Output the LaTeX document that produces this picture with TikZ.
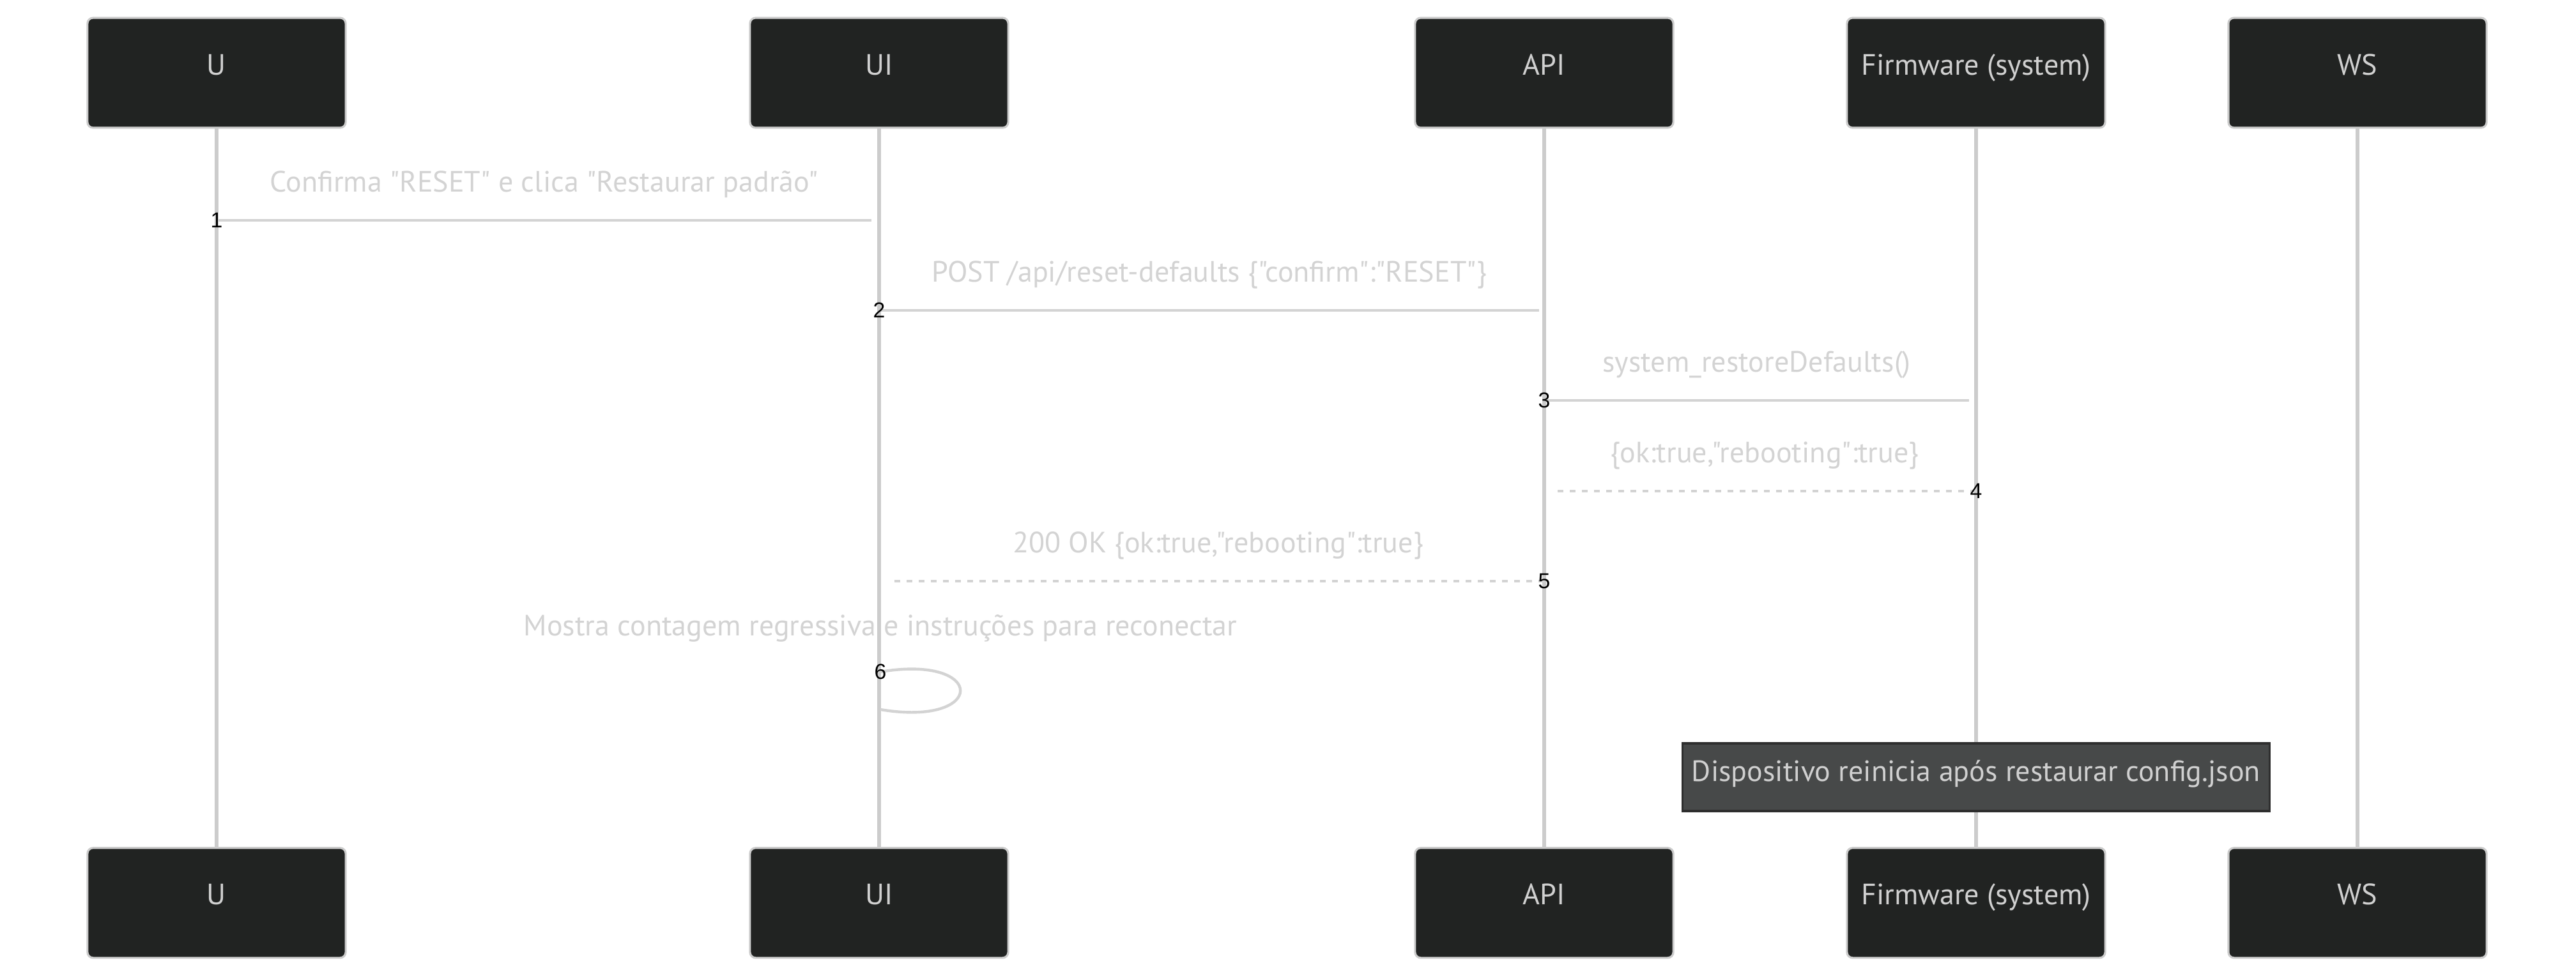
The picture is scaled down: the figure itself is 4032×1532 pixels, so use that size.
\documentclass[tikz,border=0pt]{standalone}
\usepackage{fontspec}
\setmainfont{PT Sans}[Ligatures=TeXOff]
\setsansfont{PT Sans}[Ligatures=TeXOff]
\newfontfamily\numfont{Liberation Sans}
\usetikzlibrary{positioning}

\definecolor{actorfill}{HTML}{212322}
\definecolor{actortext}{HTML}{D0D0D0}
\definecolor{lifegray}{HTML}{CCCCCC}
\definecolor{siggray}{HTML}{D3D3D3}
\definecolor{notefill}{HTML}{474949}
\definecolor{noteline}{HTML}{2E2E2E}

\begin{document}
\begin{tikzpicture}[x=0.01cm,y=-0.01cm,font=\sffamily\fontsize{13.1}{16}\selectfont,
	actor/.style={minimum width=4.04cm,minimum height=1.72cm,outer sep=0pt,draw=lifegray,line width=0.9pt,fill=actorfill,rounded corners=2.5pt,text=actortext,text height=0.42cm,text depth=0.36cm},
	lifeline/.style={draw=lifegray,line width=1.7pt},
	sig/.style={draw=siggray,line width=1.25pt},
	reply/.style={sig,dash pattern=on 0.09cm off 0.1cm},
	msgtext/.style={text=siggray,text height=0.36cm,text depth=0.1cm,inner sep=0pt},
	seqnum/.style={font=\numfont\fontsize{9.6}{11}\selectfont,text=black,inner sep=0pt},
	note/.style={minimum width=9.18cm,minimum height=1.06cm,outer sep=0pt,draw=noteline,line width=0.9pt,fill=notefill,text=actortext,text height=0.42cm,text depth=0.3cm}]
	\useasboundingbox (0,0) rectangle (4032,1532);

	\node [actor] at (339,114) (u_top) {U};
	\node [actor] at (1376,114) (ui_top) {UI};
	\node [actor] at (2417,114) (api_top) {API};
	\node [actor] at (3093,114) (fw_top) {Firmware (system)};
	\node [actor] at (3690,114) (ws_top) {WS};

	\node [actor,below=11.27cm of u_top] (u_bot) {U};
	\node [actor,below=11.27cm of ui_top] (ui_bot) {UI};
	\node [actor,below=11.27cm of api_top] (api_bot) {API};
	\node [actor,below=11.27cm of fw_top] (fw_bot) {Firmware (system)};
	\node [actor,below=11.27cm of ws_top] (ws_bot) {WS};

	\draw[lifeline] (u_top) -- (u_bot);
	\draw[lifeline] (ui_top) -- (ui_bot);
	\draw[lifeline] (api_top) -- (api_bot);
	\draw[lifeline] (fw_top) -- (fw_bot);
	\draw[lifeline] (ws_top) -- (ws_bot);

	\node [note] at (3093,1217) (reboot_note) {Dispositivo reinicia após restaurar config.json};

	\coordinate (m1_s) at (339,345);
	\coordinate (m1_e) at (1364,345);
	\coordinate (m2_s) at (1376,486);
	\coordinate (m2_e) at (2409,486);
	\coordinate (m3_s) at (2417,627);
	\coordinate (m3_e) at (3082,627);
	\coordinate (m4_s) at (3093,769);
	\coordinate (m4_e) at (2431,769);
	\coordinate (m5_s) at (2417,910);
	\coordinate (m5_e) at (1396,910);
	\coordinate (m6_s) at (1378,1052);
	\coordinate (m6_e) at (1378,1111);

	\draw[sig] (m1_s) -- node[msgtext,yshift=0.57cm] {Confirma "RESET" e clica "Restaurar padrão"} (m1_e);
	\draw[sig] (m2_s) -- node[msgtext,yshift=0.57cm] {POST /api/reset-defaults \{"confirm":"RESET"\}} (m2_e);
	\draw[sig] (m3_s) -- node[msgtext,yshift=0.57cm] {system\_restoreDefaults()} (m3_e);
	\draw[reply] (m4_s) -- node[msgtext,yshift=0.57cm] {\{ok:true,"rebooting":true\}} (m4_e);
	\draw[reply] (m5_s) -- node[msgtext,yshift=0.57cm] {200 OK \{ok:true,"rebooting":true\}} (m5_e);
	\draw[sig] (m6_s) .. controls (1545,1024) and (1545,1139) .. (m6_e);
	\node [msgtext,above=0.46cm of m6_s] (m6_txt) {Mostra contagem regressiva e instruções para reconectar};

	\node [seqnum] at (m1_s) (n1) {1};
	\node [seqnum] at (m2_s) (n2) {2};
	\node [seqnum] at (m3_s) (n3) {3};
	\node [seqnum] at (m4_s) (n4) {4};
	\node [seqnum] at (m5_s) (n5) {5};
	\node [seqnum] at (m6_s) (n6) {6};
\end{tikzpicture}
\end{document}
